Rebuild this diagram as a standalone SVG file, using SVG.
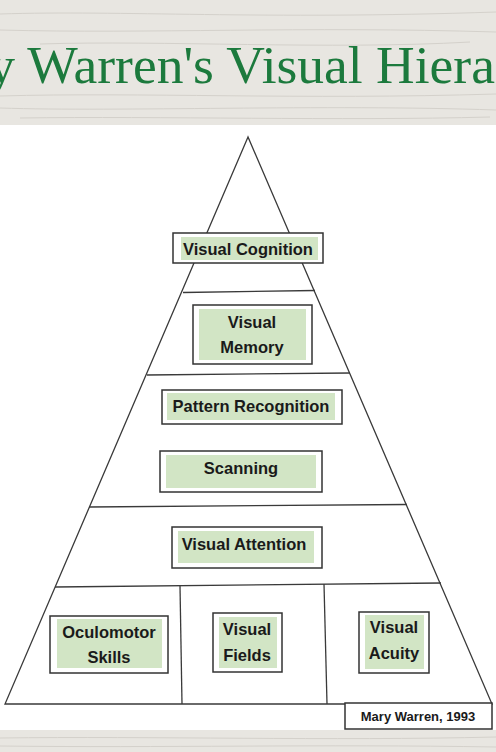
<svg xmlns="http://www.w3.org/2000/svg" width="496" height="752" viewBox="0 0 496 752">
  <style>
    .band { fill: #e8e6e1; }
    .grain { stroke: #d4d1cb; stroke-width: 1; fill: none; }
    .title { font-family: "Liberation Serif", "DejaVu Serif", serif; font-size: 53.5px; fill: #1c7a3d; }
    .line { stroke: #3a3a3a; stroke-width: 1.3; fill: none; }
    .outer { fill: #ffffff; stroke: #333333; stroke-width: 1.5; }
    .inner { fill: #d2e5c5; }
    .lbl { font-family: "Liberation Sans", Arial, sans-serif; font-weight: bold; font-size: 16.5px; fill: #1a1a1a; text-anchor: middle; }
    .cite { font-family: "Liberation Sans", Arial, sans-serif; font-weight: bold; font-size: 13px; fill: #1a1a1a; text-anchor: middle; }
  </style>
  <rect x="0" y="0" width="496" height="752" fill="#ffffff"/>
  <g id="header">
    <rect class="band" x="0" y="0" width="496" height="125"/>
    <path class="grain" d="M0 14 C120 10 260 20 496 12 M0 30 C150 34 300 26 496 32 M40 44 C160 40 330 50 470 42 M0 96 C140 92 300 100 496 94 M0 108 C120 112 320 104 496 110 M20 118 C160 116 340 121 490 117"/>
    <text class="title" x="-101" y="83">Mary Warren's Visual Hierarchy</text>
  </g>
  <g id="footer">
    <rect class="band" x="0" y="730" width="496" height="22"/>
    <path class="grain" d="M0 738 C150 736 330 741 496 737 M0 746 C160 748 320 744 496 747"/>
  </g>
  <g id="connectors">
    <polygon class="line" points="248,137 5,704 492,704"/>
    <line class="line" x1="183" y1="292.5" x2="315" y2="290.5"/>
    <line class="line" x1="147" y1="375" x2="350" y2="373"/>
    <line class="line" x1="89" y1="507" x2="407" y2="504.5"/>
    <line class="line" x1="55" y1="587" x2="441" y2="583"/>
    <line class="line" x1="180" y1="586" x2="182" y2="704"/>
    <line class="line" x1="324" y1="584" x2="327" y2="704"/>
  </g>
  <g id="visual-cognition">
    <rect class="outer" x="173" y="233" width="150" height="30"/>
    <rect class="inner" x="181" y="237" width="137" height="23"/>
    <text class="lbl" x="248" y="255">Visual Cognition</text>
  </g>
  <g id="visual-memory">
    <rect class="outer" x="193" y="305" width="119" height="59"/>
    <rect class="inner" x="199" y="309" width="107" height="51"/>
    <text class="lbl" x="252" y="328">Visual</text>
    <text class="lbl" x="252" y="353">Memory</text>
  </g>
  <g id="pattern-recognition">
    <rect class="outer" x="162" y="390" width="180" height="34"/>
    <rect class="inner" x="167" y="393" width="168" height="27"/>
    <text class="lbl" x="251" y="412">Pattern Recognition</text>
  </g>
  <g id="scanning">
    <rect class="outer" x="160" y="451" width="162" height="41"/>
    <rect class="inner" x="166" y="455" width="150" height="33"/>
    <text class="lbl" x="241" y="474">Scanning</text>
  </g>
  <g id="visual-attention">
    <rect class="outer" x="172" y="527" width="150" height="41"/>
    <rect class="inner" x="178" y="531" width="136" height="32"/>
    <text class="lbl" x="244" y="550">Visual Attention</text>
  </g>
  <g id="oculomotor-skills">
    <rect class="outer" x="50" y="616" width="118" height="57"/>
    <rect class="inner" x="57" y="619" width="105" height="49"/>
    <text class="lbl" x="109" y="638">Oculomotor</text>
    <text class="lbl" x="109" y="663">Skills</text>
  </g>
  <g id="visual-fields">
    <rect class="outer" x="213" y="613" width="69" height="59"/>
    <rect class="inner" x="219" y="617" width="58" height="51"/>
    <text class="lbl" x="247" y="635">Visual</text>
    <text class="lbl" x="247" y="661">Fields</text>
  </g>
  <g id="visual-acuity">
    <rect class="outer" x="359" y="612" width="70" height="61"/>
    <rect class="inner" x="365" y="615" width="59" height="54"/>
    <text class="lbl" x="394" y="633">Visual</text>
    <text class="lbl" x="394" y="659">Acuity</text>
  </g>
  <g id="citation">
    <rect class="outer" x="345" y="703" width="147" height="26"/>
    <text class="cite" x="418" y="721">Mary Warren, 1993</text>
  </g>
</svg>
